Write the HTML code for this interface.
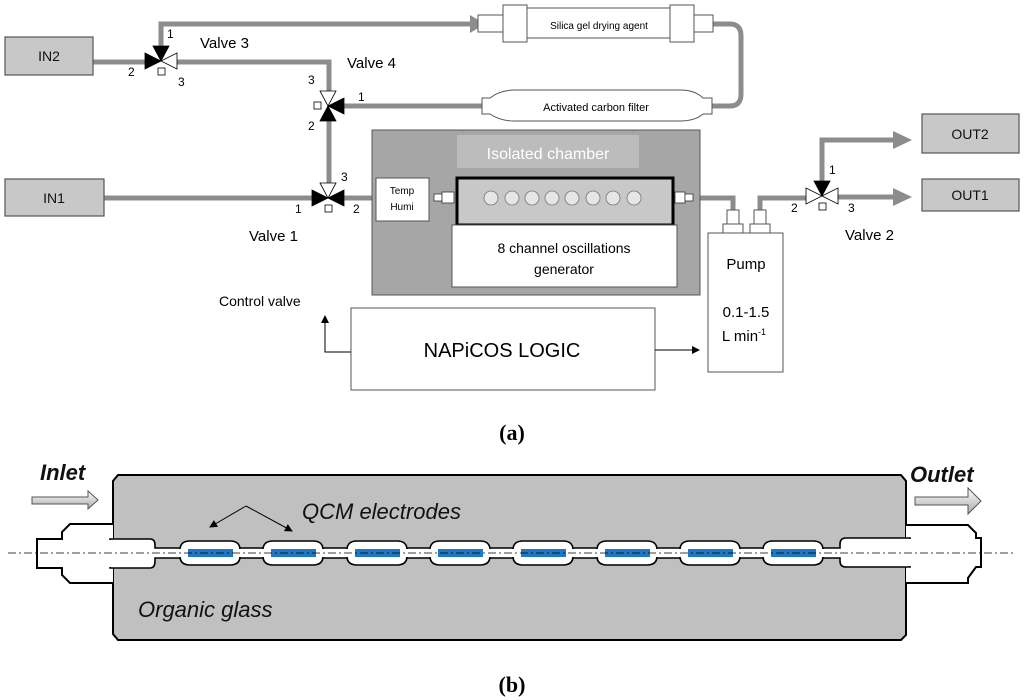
<!DOCTYPE html>
<html><head><meta charset="utf-8"><style>
html,body{margin:0;padding:0;background:#fff;}
svg{display:block;font-family:"Liberation Sans",sans-serif;}
</style></head><body>
<svg width="1024" height="700" viewBox="0 0 1024 700" xmlns="http://www.w3.org/2000/svg">
<defs>
<marker id="ah" markerWidth="8" markerHeight="8" refX="7" refY="4" orient="auto" markerUnits="userSpaceOnUse"><path d="M0,0 L8,4 L0,8 z" fill="#000"/></marker>
<linearGradient id="ag" x1="0" y1="0" x2="0" y2="1"><stop offset="0" stop-color="#fff"/><stop offset="1" stop-color="#aaa"/></linearGradient>
</defs>
<g stroke="#8c8c8c" stroke-width="5" fill="none">
<path d="M93,62 H150"/>
<path d="M161,50 V24 H470"/>
<path d="M175,62 H329 V95"/>
<path d="M329,117 V188"/>
<path d="M104,198 H316"/>
<path d="M340,198 H376"/>
<path d="M344,106 H482"/>
<path d="M713,24 H730 Q741,24 741,36 V94 Q741,106 730,106 H712"/>
<path d="M695,198 H733 V215"/>
<path d="M760,215 V198 H808"/>
<path d="M822,185 V140 H895"/>
<path d="M836,197 H895"/>
</g>
<polygon points="470,15 485,24 470,33" fill="#8c8c8c"/>
<polygon points="893,131 912,140 893,149" fill="#8c8c8c"/>
<polygon points="893,188 912,197 893,206" fill="#8c8c8c"/>
<g fill="#c8c8c8" stroke="#555" stroke-width="1.2">
<rect x="5" y="37" width="88" height="38"/>
<rect x="5" y="179" width="99" height="37"/>
<rect x="922" y="114" width="97" height="39"/>
<rect x="922" y="179" width="97" height="32"/>
</g>
<g font-size="14" text-anchor="middle" fill="#111">
<text x="49" y="61">IN2</text><text x="54" y="203">IN1</text>
<text x="970" y="139">OUT2</text><text x="970" y="200">OUT1</text>
</g>
<g stroke="#000" stroke-width="0.8">
<polygon points="153,46 169,46 161,61" fill="#000"/>
<polygon points="145,53 145,69 161,61" fill="#000"/>
<polygon points="177,53 177,69 161,61" fill="#fff"/>
<rect x="158" y="68" width="7" height="7" fill="#fff"/>
<polygon points="320,91 336,91 328,106" fill="#fff"/>
<polygon points="320,121 336,121 328,106" fill="#000"/>
<polygon points="344,98 344,114 328,106" fill="#000"/>
<rect x="314" y="102" width="7" height="7" fill="#fff"/>
<polygon points="320,183 336,183 328,198" fill="#fff"/>
<polygon points="312,190 312,206 328,198" fill="#000"/>
<polygon points="344,190 344,206 328,198" fill="#000"/>
<rect x="325" y="205" width="7" height="7" fill="#fff"/>
<polygon points="814,181 830,181 822,196" fill="#000"/>
<polygon points="806,188 806,204 822,196" fill="#fff"/>
<polygon points="838,188 838,204 822,196" fill="#fff"/>
<rect x="819" y="203" width="7" height="7" fill="#fff"/>
</g>
<g font-size="12" fill="#000">
<text x="167" y="38">1</text><text x="128" y="76">2</text><text x="178" y="86">3</text>
<text x="308" y="84">3</text><text x="358" y="101">1</text><text x="308" y="130">2</text>
<text x="341" y="181">3</text><text x="295" y="213">1</text><text x="353" y="213">2</text>
<text x="829" y="174">1</text><text x="791" y="212">2</text><text x="848" y="212">3</text>
</g>
<g font-size="15" fill="#000">
<text x="200" y="48">Valve 3</text>
<text x="347" y="68">Valve 4</text>
<text x="249" y="241">Valve 1</text>
<text x="845" y="240">Valve 2</text>
</g>
<g stroke="#555" fill="#fff" stroke-width="1">
<rect x="478" y="15" width="25" height="17"/>
<rect x="503" y="5" width="24" height="37"/>
<rect x="527" y="8" width="143" height="30"/>
<rect x="670" y="5" width="24" height="37"/>
<rect x="694" y="15" width="19" height="17"/>
<path d="M482,98 H490 Q500,90 515,90 H680 Q695,90 703,98 H712 V114 H703 Q695,121 680,121 H515 Q500,121 490,114 H482 Z"/>
</g>
<text x="599" y="29" font-size="10" text-anchor="middle">Silica gel drying agent</text>
<text x="596" y="111" font-size="11" text-anchor="middle">Activated carbon filter</text>
<rect x="372" y="130" width="328" height="165" fill="#a6a6a6" stroke="#555"/>
<rect x="457" y="135" width="182" height="33" fill="#bcbcbc"/>
<text x="548" y="159" font-size="16" fill="#fff" text-anchor="middle">Isolated chamber</text>
<rect x="376" y="178" width="53" height="43" fill="#fff" stroke="#555"/>
<text x="402" y="194" font-size="10" text-anchor="middle">Temp</text>
<text x="402" y="210" font-size="10" text-anchor="middle">Humi</text>
<g fill="#fff" stroke="#333" stroke-width="0.8"><rect x="434" y="194" width="8" height="7"/><rect x="442" y="192" width="12" height="11"/><rect x="675" y="192" width="10" height="11"/><rect x="685" y="194" width="8" height="7"/></g>
<rect x="457" y="178" width="216" height="47" fill="#c8c8c8" stroke="#000" stroke-width="3"/>
<g fill="#e6e6e6" stroke="#777" stroke-width="0.8">
<circle cx="491" cy="198" r="7"/><circle cx="512" cy="198" r="7"/><circle cx="532" cy="198" r="7"/><circle cx="552" cy="198" r="7"/><circle cx="572" cy="198" r="7"/><circle cx="593" cy="198" r="7"/><circle cx="613" cy="198" r="7"/><circle cx="634" cy="198" r="7"/>
</g>
<rect x="452" y="225" width="225" height="62" fill="#fff" stroke="#555"/>
<text x="564" y="253" font-size="14" text-anchor="middle">8 channel oscillations</text>
<text x="564" y="274" font-size="14" text-anchor="middle">generator</text>
<g fill="#fff" stroke="#555"><rect x="727" y="210" width="12" height="14"/><rect x="754" y="210" width="12" height="14"/><rect x="723" y="224" width="20" height="9"/><rect x="750" y="224" width="20" height="9"/></g>
<rect x="708" y="233" width="75" height="139" fill="#fff" stroke="#555"/>
<text x="746" y="269" font-size="15" text-anchor="middle">Pump</text>
<text x="746" y="317" font-size="15" text-anchor="middle">0.1-1.5</text>
<text x="744" y="341" font-size="15" text-anchor="middle">L min<tspan font-size="9" dy="-6">-1</tspan></text>
<rect x="351" y="308" width="304" height="82" fill="#fff" stroke="#555"/>
<text x="502" y="357" font-size="20" text-anchor="middle">NAPiCOS LOGIC</text>
<path d="M655,350 H699" stroke="#000" marker-end="url(#ah)"/>
<path d="M351,352 H325 V316" stroke="#000" fill="none" marker-end="url(#ah)"/>
<text x="219" y="306" font-size="14">Control valve</text>
<text x="512" y="440" font-size="22" font-weight="bold" font-family="Liberation Serif,serif" text-anchor="middle">(a)</text>
<!-- part b -->
<path d="M118,475 H901 L906,481 V635 L901,640 H118 L113,634 V481 Z" fill="#c0c0c0" stroke="#000" stroke-width="2"/>
<path d="M113,524 H70 L62,532 V539 H37 V568 H62 V575 L70,583 H113" fill="#fff" stroke="#000" stroke-width="2"/>
<path d="M906,525 H968 L976,533 V538 H981 V567 H976 L968,578 V583 H906" fill="#fff" stroke="#000" stroke-width="2"/>
<g fill="#fff" stroke="#000" stroke-width="1.6">
<path d="M110,539 H150 Q155,539 155,545 V548 H840 V544 Q840,538 846,538 H910 V567 H846 Q840,567 840,561 V558 H155 V561 Q155,568 150,568 H110 Z"/>
<path d="M180,550 Q180,541 190,541 H230 Q240,541 240,550 V556 Q240,565 230,565 H190 Q180,565 180,556 Z"/>
<path d="M263,550 Q263,541 273,541 H313 Q323,541 323,550 V556 Q323,565 313,565 H273 Q263,565 263,556 Z"/>
<path d="M347,550 Q347,541 357,541 H397 Q407,541 407,550 V556 Q407,565 397,565 H357 Q347,565 347,556 Z"/>
<path d="M430,550 Q430,541 440,541 H480 Q490,541 490,550 V556 Q490,565 480,565 H440 Q430,565 430,556 Z"/>
<path d="M513,550 Q513,541 523,541 H563 Q573,541 573,550 V556 Q573,565 563,565 H523 Q513,565 513,556 Z"/>
<path d="M597,550 Q597,541 607,541 H647 Q657,541 657,550 V556 Q657,565 647,565 H607 Q597,565 597,556 Z"/>
<path d="M680,550 Q680,541 690,541 H730 Q740,541 740,550 V556 Q740,565 730,565 H690 Q680,565 680,556 Z"/>
<path d="M763,550 Q763,541 773,541 H813 Q823,541 823,550 V556 Q823,565 813,565 H773 Q763,565 763,556 Z"/>
</g>
<rect x="152" y="549" width="694" height="8" fill="#fff"/>
<rect x="104" y="540" width="14" height="27" fill="#fff"/>
<rect x="900" y="539" width="14" height="27" fill="#fff"/>
<g fill="#1f78c1">
<rect x="188" y="549" width="45" height="8"/><rect x="271" y="549" width="45" height="8"/><rect x="355" y="549" width="45" height="8"/><rect x="438" y="549" width="45" height="8"/><rect x="521" y="549" width="45" height="8"/><rect x="605" y="549" width="45" height="8"/><rect x="688" y="549" width="45" height="8"/><rect x="771" y="549" width="45" height="8"/>
</g>
<line x1="8" y1="553" x2="1015" y2="553" stroke="#000" stroke-width="0.8" stroke-dasharray="8,3,2,3"/>
<path d="M32,497 H88 V491 L98,500 L88,509 V504 H32 Z" fill="url(#ag)" stroke="#555"/>
<path d="M915,497 H968 V488 L981,501 L968,514 V505 H915 Z" fill="url(#ag)" stroke="#555"/>
<g font-size="22" font-style="italic" font-weight="bold" fill="#111">
<text x="40" y="480">Inlet</text>
<text x="910" y="482">Outlet</text>
</g>
<g font-size="22" font-style="italic" fill="#111">
<text x="302" y="519">QCM electrodes</text>
<text x="138" y="617">Organic glass</text>
</g>
<path d="M246,506 L210,527" stroke="#000" fill="none" marker-end="url(#ah)"/>
<path d="M246,506 L292,531" stroke="#000" fill="none" marker-end="url(#ah)"/>
<text x="512" y="692" font-size="22" font-weight="bold" font-family="Liberation Serif,serif" text-anchor="middle">(b)</text>
</svg>
</body></html>
